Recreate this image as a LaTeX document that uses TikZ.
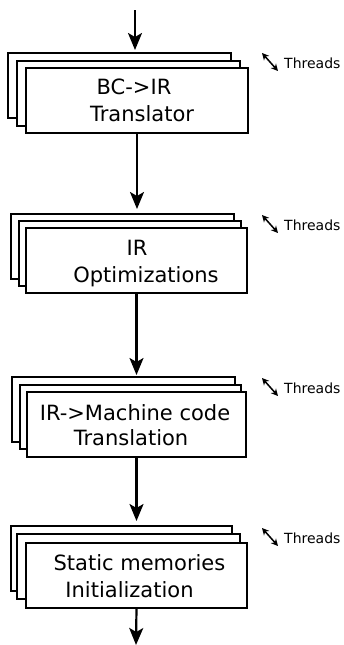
\documentclass[tikz,border=0pt]{standalone}
\usepackage{fontspec}
\setmainfont{DejaVu Sans}
\usetikzlibrary{arrows.meta,fit}
\begin{document}
\begin{tikzpicture}[x=1pt,y=-1pt,
  box/.style={draw=black, fill=white, line width=2pt, inner sep=0pt, outer sep=0pt},
  lbl/.style={anchor=base, inner sep=0pt, font=\fontsize{21}{25}\selectfont},
  thr/.style={anchor=base west, inner sep=0pt, font=\fontsize{14}{16}\selectfont},
  flow/.style={line width=2.2pt, -{Stealth[length=17pt,width=14pt,inset=4pt]}},
  thrarrow/.style={line width=1.5pt, {Stealth[length=7pt,width=7pt]}-{Stealth[length=7pt,width=7pt]}}]
\useasboundingbox (0,0) rectangle (344,645);
% block 1
\node[box, fit={(8,53) (231,118)}] (b1back) {};
\node[box, fit={(17,61) (240,126)}] (b1mid) {};
\node[box, fit={(26,68) (248,133)}] (b1front) {};
\node[lbl] (l1a) at (134,94) {BC->IR};
\node[lbl] (l1b) at (142,121) {Translator};
% block 2
\node[box, fit={(11,214) (234,279)}] (b2back) {};
\node[box, fit={(19,221) (241,286)}] (b2mid) {};
\node[box, fit={(26,228) (247,293)}] (b2front) {};
\node[lbl] (l2a) at (137,255) {IR};
\node[lbl] (l2b) at (146,282) {Optimizations};
% block 3
\node[box, fit={(12,377) (235,442)}] (b3back) {};
\node[box, fit={(20,385) (241,449)}] (b3mid) {};
\node[box, fit={(27,392) (246,457)}] (b3front) {};
\node[lbl] (l3a) at (135,420) {IR->Machine code};
\node[lbl] (l3b) at (131,445) {Translation};
% block 4
\node[box, fit={(11,526) (232,591)}] (b4back) {};
\node[box, fit={(17,534) (240,599)}] (b4mid) {};
\node[box, fit={(26,543) (247,608)}] (b4front) {};
\node[lbl] (l4a) at (139.5,570) {Static memories};
\node[lbl] (l4b) at (129.5,597) {Initialization};
% threads
\foreach \i/\y in {1/53,2/215,3/378,4/528}{
  \coordinate (t\i a) at (262,\y);
  \coordinate (t\i b) at (278,\y+18);
  \draw[thrarrow] (t\i a) -- (t\i b);
  \node[thr] (th\i) at (284,\y+15) {Threads};
}
% flow connectors
\coordinate (in) at (135,10);
\coordinate (out) at (136,645);
\draw[flow, shorten >=3pt] (in) -- (in |- b1back.north);
\draw[flow, shorten >=5pt] (b1front.south) -- (b1front.south |- b2back.north);
\draw[flow, shorten >=2pt] (b2front.south) -- (b2front.south |- b3back.north);
\draw[flow, shorten >=5pt] (b3front.south) -- (b3front.south |- b4back.north);
\draw[flow] (b4front.south) -- (out);
\end{tikzpicture}
\end{document}
